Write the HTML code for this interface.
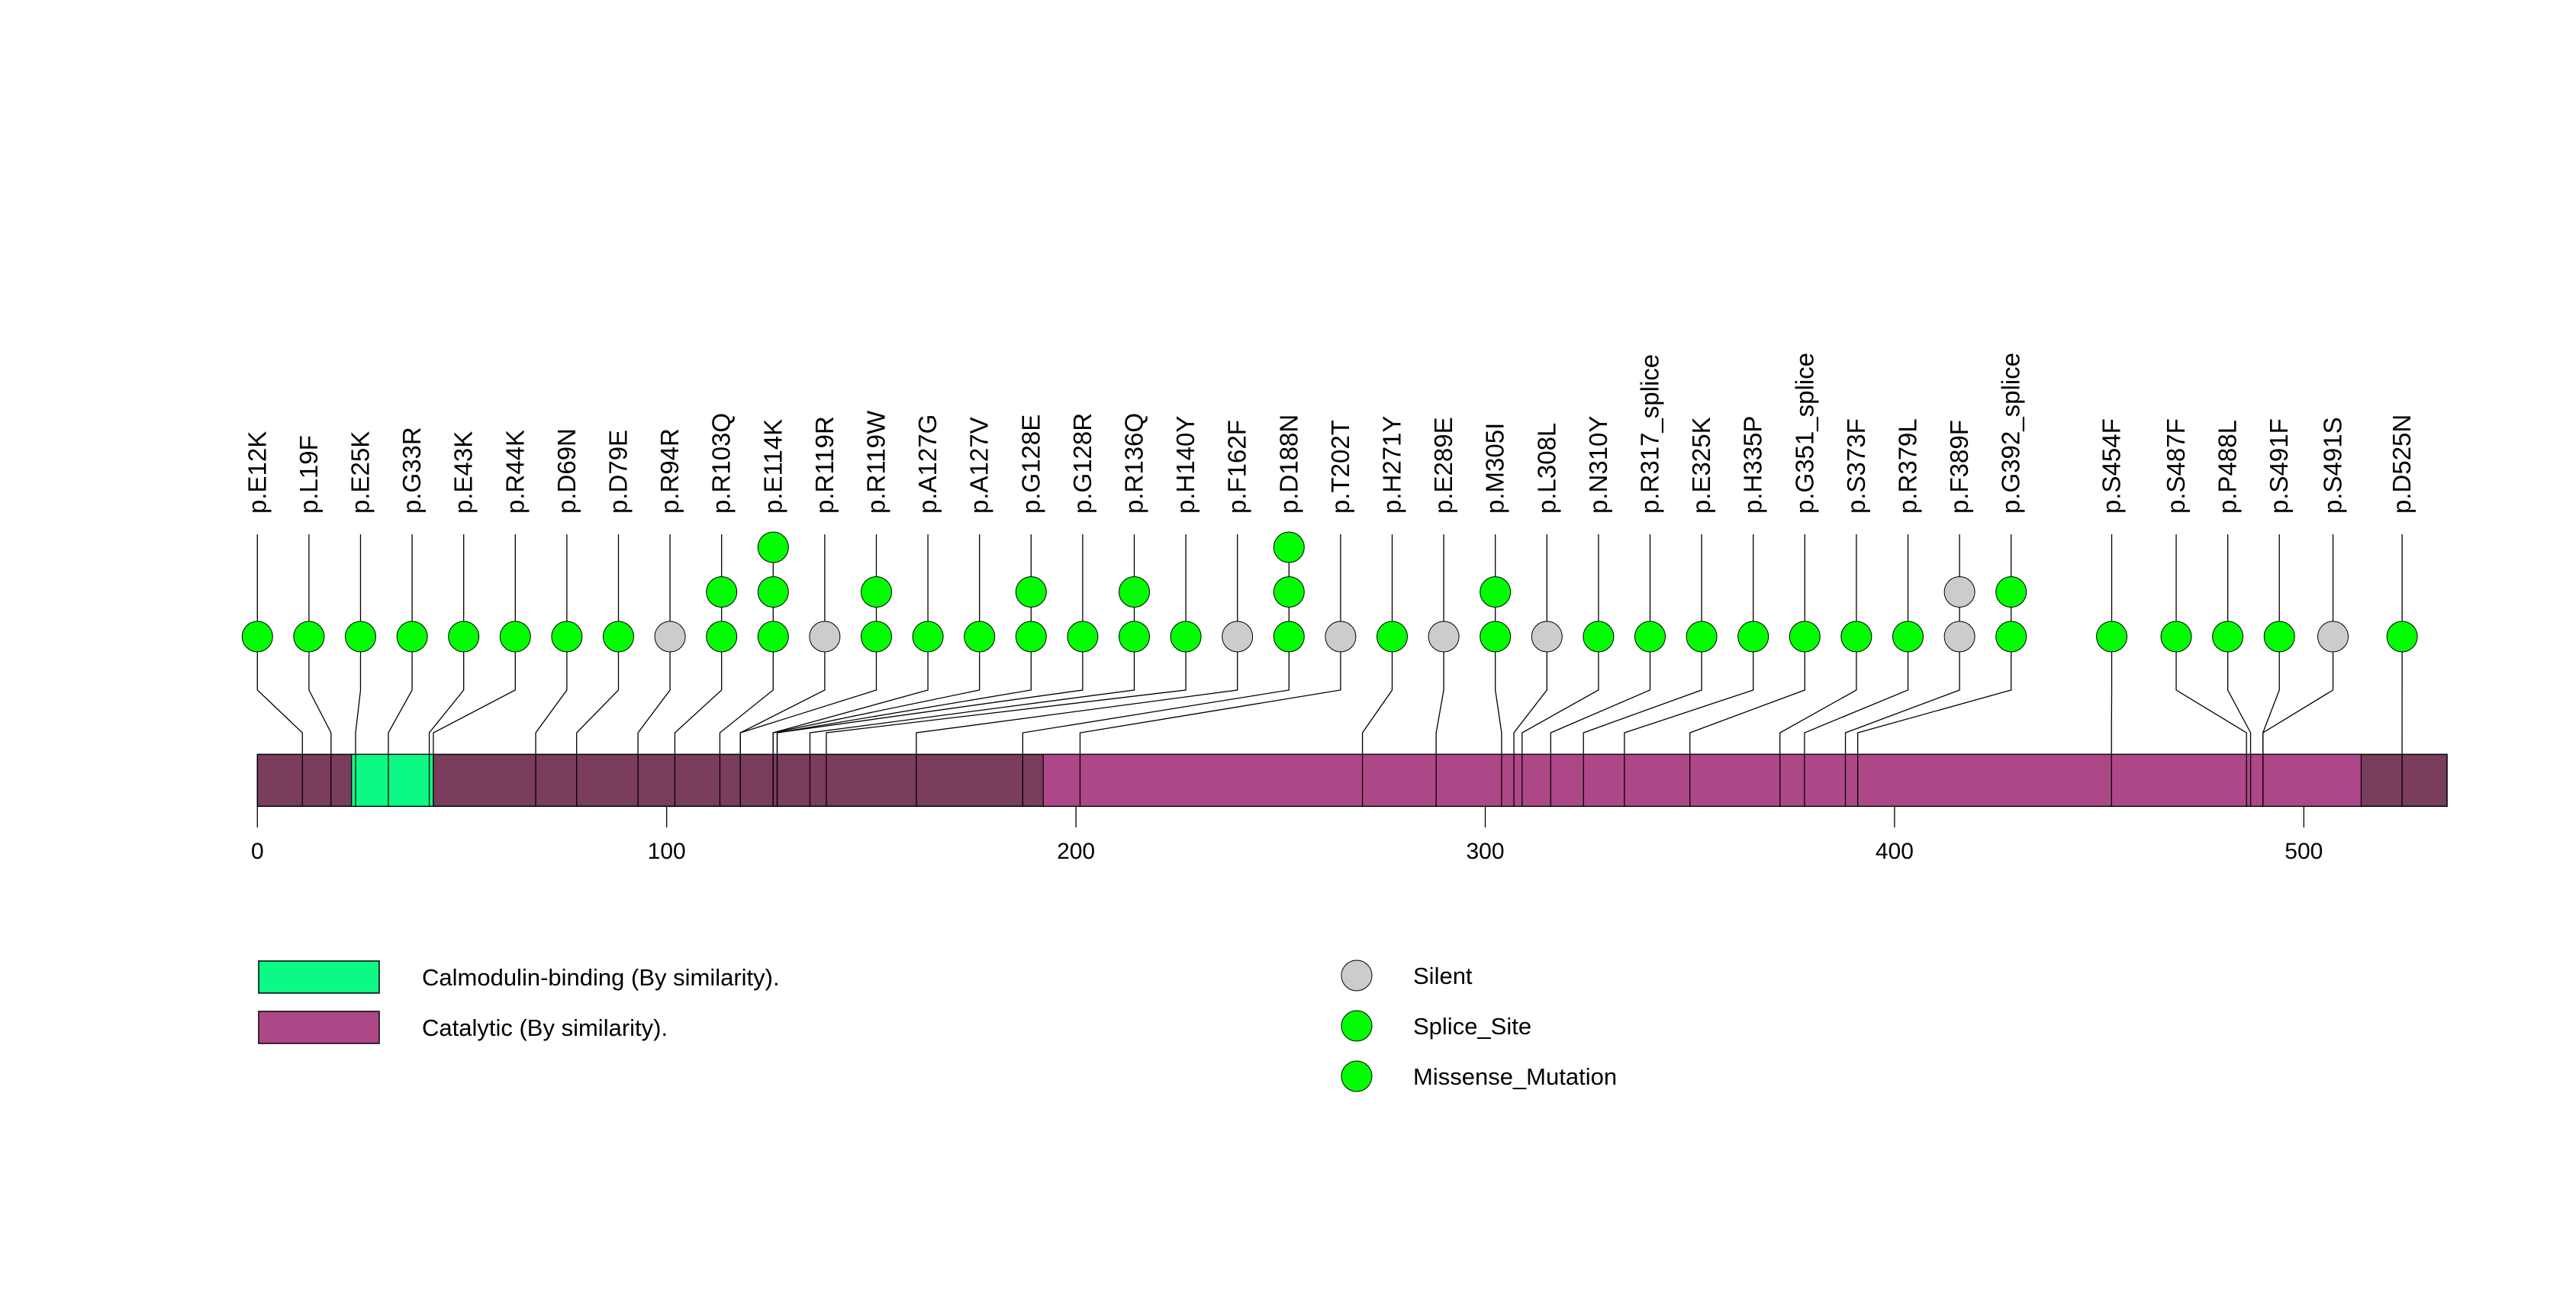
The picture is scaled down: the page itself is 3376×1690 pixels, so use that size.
<!DOCTYPE html>
<html><head><meta charset="utf-8"><style>
html,body{margin:0;padding:0;background:#fff;}
svg{display:block;font-family:"Liberation Sans",Arial,sans-serif;}
</style></head><body>
<svg id="chart" width="3376" height="1690" viewBox="0 0 3376 1690" xmlns="http://www.w3.org/2000/svg">
<g id="stems"></g>
<g id="domain"></g>
<g id="axis"></g>
<g id="points"></g>
<g id="labels"></g>
<g id="legend">
  <rect x="339" y="1259" width="158" height="42" fill="#0DF986" stroke="#000" stroke-width="1.5"/>
  <text x="553" y="1291" font-size="31">Calmodulin-binding (By similarity).</text>
  <rect x="339" y="1325" width="158" height="42" fill="#AE4787" stroke="#000" stroke-width="1.5"/>
  <text x="553" y="1357" font-size="31">Catalytic (By similarity).</text>
  <circle cx="1778" cy="1278" r="20" fill="#CCCCCC" stroke="#000" stroke-width="1"/>
  <text x="1852" y="1289" font-size="31">Silent</text>
  <circle cx="1778" cy="1344" r="20" fill="#00FF00" stroke="#000" stroke-width="1"/>
  <text x="1852" y="1355" font-size="31">Splice_Site</text>
  <circle cx="1778" cy="1410" r="20" fill="#00FF00" stroke="#000" stroke-width="1"/>
  <text x="1852" y="1421" font-size="31">Missense_Mutation</text>
</g>
</svg>
<script>
const labels = ["p.E12K","p.L19F","p.E25K","p.G33R","p.E43K","p.R44K","p.D69N","p.D79E","p.R94R","p.R103Q","p.E114K","p.R119R","p.R119W","p.A127G","p.A127V","p.G128E","p.G128R","p.R136Q","p.H140Y","p.F162F","p.D188N","p.T202T","p.H271Y","p.E289E","p.M305I","p.L308L","p.N310Y","p.R317_splice","p.E325K","p.H335P","p.G351_splice","p.S373F","p.R379L","p.F389F","p.G392_splice","p.S454F","p.S487F","p.P488L","p.S491F","p.S491S","p.D525N"];
const positions = [12,19,25,33,43,44,69,79,94,103,114,119,119,127,127,128,128,136,140,162,188,202,271,289,305,308,310,317,325,335,351,373,379,389,392,454,487,488,491,491,525];
const counts = [1,1,1,1,1,1,1,1,1,2,3,1,2,1,1,2,1,2,1,1,3,1,1,1,2,1,1,1,1,1,1,1,1,2,2,1,1,1,1,1,1];
const silent = [0,0,0,0,0,0,0,0,1,0,0,1,0,0,0,0,0,0,0,1,0,1,0,1,0,1,0,0,0,0,0,0,0,1,0,0,0,0,0,1,0];
const slots = [0,1,2,3,4,5,6,7,8,9,10,11,12,13,14,15,16,17,18,19,20,21,22,23,24,25,26,27,28,29,30,31,32,33,34,35.95,37.2,38.2,39.2,40.24,41.58];
const proteinLength = 535;
const domainStarts = [23,192];
const domainEnds = [43,514];
const domainNames = ["calmodulin-binding","catalytic"];
const domainColors = ["#0DF986","#AE4787"];
const ticks = [0,100,200,300,400,500];

const NS="http://www.w3.org/2000/svg";
const xScale = p => 337.3 + p*5.364;
const slotX = s => 337.3 + s*67.6;
const rowY = k => 834 - k*58.5;
const BT=988.3, BB=1056.3;
function mk(tag, attrs, parent){const e=document.createElementNS(NS,tag);for(const k in attrs)e.setAttribute(k,attrs[k]);parent.appendChild(e);return e;}
const gStems=document.getElementById('stems'),gDom=document.getElementById('domain'),gAx=document.getElementById('axis'),gPts=document.getElementById('points'),gLab=document.getElementById('labels');

for(let i=0;i<labels.length;i++){
  const sx=slotX(slots[i]), bx=xScale(positions[i]-1);
  const pl=mk('polyline',{points:`${sx},700 ${sx},904 ${bx},960 ${bx},${BB}`,fill:'none',stroke:'#000','stroke-width':1.3},gStems);
  
  
}
const bar=mk('rect',{x:xScale(0),y:BT,width:xScale(proteinLength)-xScale(0),height:BB-BT,fill:'#7A3D5B',stroke:'#000','stroke-width':1.5},gDom);


for(let d=0;d<domainStarts.length;d++){
  const r=mk('rect',{x:xScale(domainStarts[d]),y:BT,width:xScale(domainEnds[d])-xScale(domainStarts[d]),height:BB-BT,fill:domainColors[d],stroke:'#000','stroke-width':1.2},gDom);
  
  
}
for(let i=0;i<labels.length;i++){
  const bx=xScale(positions[i]-1);
  const l=mk('line',{x1:bx,y1:BT,x2:bx,y2:BB,stroke:'#000','stroke-width':1.3},gDom);
  
  
}
for(const t of ticks){
  const x=xScale(t);
  const l=mk('line',{x1:x,y1:BB,x2:x,y2:1084,stroke:'#000','stroke-width':1.3},gAx);
  
  
  const tx=mk('text',{x:x,y:1125,'font-size':30,'text-anchor':'middle'},gAx);
  tx.textContent=String(t);
  
  
}
for(let i=0;i<labels.length;i++){
  const sx=slotX(slots[i]);
  for(let k=0;k<counts[i];k++){
    const c=mk('circle',{cx:sx,cy:rowY(k),r:20,fill:silent[i]?'#CCCCCC':'#00FF00',stroke:'#000','stroke-width':1},gPts);
    
    
  }
  const t=mk('text',{transform:`translate(${sx+11},673) rotate(-90)`,'font-size':33},gLab);
  t.textContent=labels[i];
  
  
}
</script>
</body></html>
